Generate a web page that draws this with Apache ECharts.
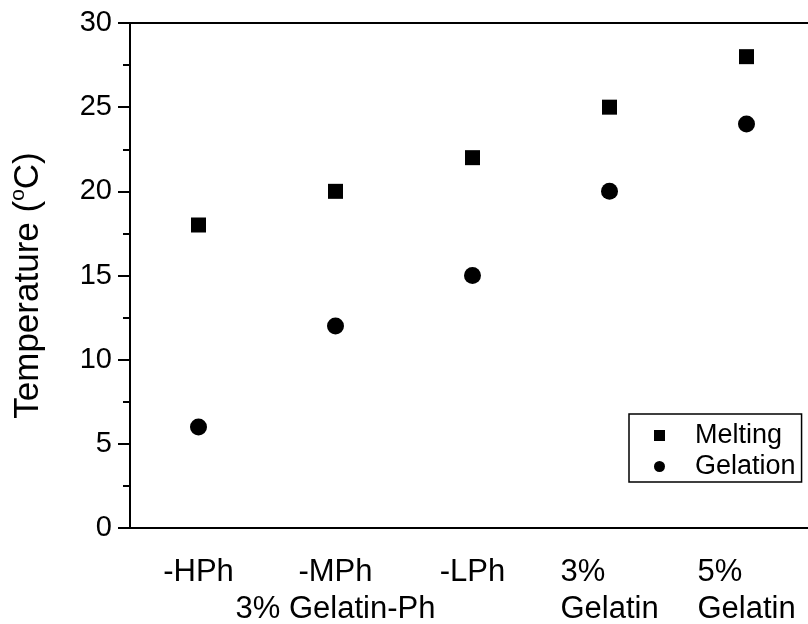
<!DOCTYPE html>
<html>
  <head>
    <meta charset="utf-8" />
    <title>Temperature</title>
    <script src="https://cdn.jsdelivr.net/npm/echarts@6/dist/echarts.min.js"></script>
    <style>
      html, body { margin: 0; padding: 0; background: #fff; }
    </style>
  </head>
  <body>
    <div id="main" style="width: 808px; height: 624px"></div>
    <script type="text/javascript">
      // categories and values
      var categories = ["-HPh", "-MPh", "-LPh", "3%G", "5%G"];
      var melting = [18, 20, 22, 25, 28];
      var gelation = [6, 12, 15, 20, 24];
      var yTicks = [0, 5, 10, 15, 20, 25, 30];

      var font = "Liberation Sans, Arial, sans-serif";
      var myChart = echarts.init(document.getElementById("main"));

      var option = {
        backgroundColor: "#fff",
        animation: false,
        grid: {
          left: 130,
          top: 23,
          width: 685,
          height: 505,
          outerBoundsMode: "none",
          show: true,
          borderColor: "#000",
          borderWidth: 2,
        },
        legend: {
          orient: "vertical",
          left: 629,
          top: 414,
          padding: [8, 6, 2, 25],
          itemGap: 4,
          itemWidth: 11,
          itemHeight: 11,
          borderColor: "#000",
          borderWidth: 1.5,
          textStyle: {
            fontFamily: font,
            fontSize: 27,
            color: "#000",
            padding: [0, 0, 0, 25],
          },
          data: ["Melting", "Gelation"],
        },
        xAxis: {
          type: "category",
          data: categories,
          axisLine: { lineStyle: { color: "#000", width: 2 } },
          axisTick: {
            alignWithLabel: true,
            length: 10,
            lineStyle: { color: "#000", width: 2 },
          },
          axisLabel: {
            interval: 0,
            margin: 26,
            fontFamily: font,
            fontSize: 31,
            color: "#000",
            lineHeight: 37,
            formatter: function (v) {
              if (v === "-MPh") return "-MPh\n3% Gelatin-Ph";
              if (v === "3%G") return "{l|3%}\n{l|Gelatin}";
              if (v === "5%G") return "{l|5%}\n{l|Gelatin}";
              return v;
            },
            rich: {
              l: {
                width: 98,
                align: "left",
                fontFamily: font,
                fontSize: 31,
                color: "#000",
                lineHeight: 37,
              },
            },
          },
          splitLine: { show: false },
        },
        yAxis: {
          type: "value",
          min: 0,
          max: 30,
          interval: 5,
          name: "{n|Temperature (}{s|o}{n|C)}",
          nameLocation: "middle",
          nameGap: 82,
          nameTextStyle: {
            padding: [0, 20, 0, 0],
            rich: {
              n: { fontFamily: font, fontSize: 35, color: "#000", lineHeight: 40 },
              s: { fontFamily: font, fontSize: 21, color: "#000", verticalAlign: "top", lineHeight: 40 },
            },
          },
          axisLine: { show: true, lineStyle: { color: "#000", width: 2 } },
          axisTick: { show: true, length: 12, lineStyle: { color: "#000", width: 2 } },
          minorTick: { show: true, splitNumber: 2, length: 7, lineStyle: { color: "#000", width: 2 } },
          axisLabel: {
            margin: 18,
            fontFamily: font,
            fontSize: 29,
            color: "#000",
            formatter: function (v) {
              return yTicks.indexOf(v) >= 0 ? String(v) : "";
            },
          },
          splitLine: { show: false },
        },
        series: [
          {
            name: "Melting",
            type: "scatter",
            symbol: "rect",
            symbolSize: 15,
            itemStyle: { color: "#000", opacity: 1 },
            data: melting,
          },
          {
            name: "Gelation",
            type: "scatter",
            symbol: "circle",
            symbolSize: 17,
            itemStyle: { color: "#000", opacity: 1 },
            data: gelation,
          },
        ],
      };
      myChart.setOption(option);
    </script>
  </body>
</html>
